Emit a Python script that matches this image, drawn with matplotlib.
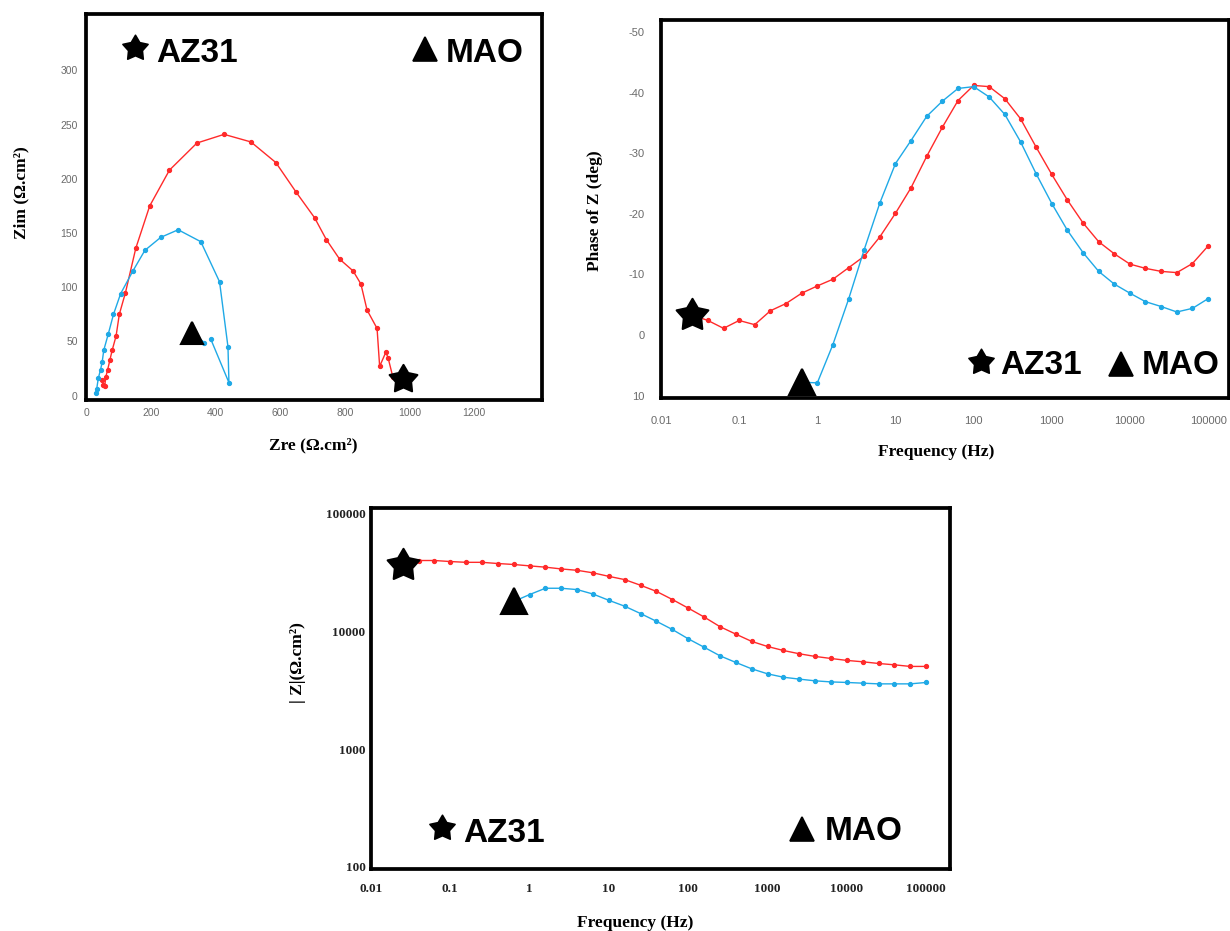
import matplotlib
matplotlib.use("Agg")
import numpy as np
import matplotlib.pyplot as plt
from matplotlib.path import Path
from matplotlib.ticker import NullLocator

plt.rcParams['axes.unicode_minus'] = False

# ---------------- Nyquist (AZ31 red, MAO blue) ----------------
nyq_az31_zre = [50, 54, 58, 61, 67, 74, 81, 93, 103, 122, 154, 197, 258, 343, 427,
                510, 587, 649, 707, 743, 784, 826, 850, 869, 900, 908, 927, 934, 949, 980]
nyq_az31_zim = [14, 10, 9, 17, 24, 33, 42, 55, 75, 95, 136, 175, 208, 233, 241,
                234, 215, 188, 164, 144, 126, 115, 103, 79, 62, 27, 40, 35, 17, 15]
nyq_mao_zre = [30, 33, 38, 45, 50, 55, 69, 85, 107, 145, 182, 231, 285, 355, 413,
               439, 442, 386, np.nan, 366, 329]
nyq_mao_zim = [2, 6, 16, 24, 31, 42, 57, 75, 94, 115, 134, 146, 153, 142, 105,
               45, 12, 52, np.nan, 49, 58]
nyq_xticks = [0, 200, 400, 600, 800, 1000, 1200]
nyq_yticks = [0, 50, 100, 150, 200, 250, 300]

# ---------------- Bode (frequency sweep) ----------------
freq_az31 = [0.0251, 0.0398, 0.0631, 0.1, 0.158, 0.251, 0.398, 0.631, 1.0, 1.58,
             2.51, 3.98, 6.31, 10, 15.8, 25.1, 39.8, 63.1, 100, 158, 251, 398,
             631, 1000, 1580, 2510, 3980, 6310, 10000, 15800, 25100, 39800,
             63100, 100000]
freq_mao = [0.631, 1.0, 1.58, 2.51, 3.98, 6.31, 10, 15.8, 25.1, 39.8, 63.1, 100,
            158, 251, 398, 631, 1000, 1580, 2510, 3980, 6310, 10000, 15800,
            25100, 39800, 63100, 100000]

phase_az31 = [-3.3, -2.4, -1.1, -2.4, -1.7, -4.0, -5.2, -6.9, -8.1, -9.2, -11.1,
              -13.0, -16.2, -20.1, -24.3, -29.5, -34.3, -38.7, -41.2, -41.0,
              -39.0, -35.7, -31.0, -26.5, -22.3, -18.5, -15.4, -13.4, -11.7,
              -11.0, -10.5, -10.3, -11.8, -14.7]
phase_mao = [7.8, 7.9, 1.6, -5.9, -14.1, -21.8, -28.3, -32.1, -36.1, -38.6, -40.7,
             -41.0, -39.3, -36.4, -31.9, -26.6, -21.7, -17.3, -13.6, -10.5, -8.4,
             -6.9, -5.5, -4.7, -3.8, -4.4, -6.0]

modz_az31 = [37000, 40100, 40100, 39300, 38700, 38700, 37800, 37100, 36100, 35200,
             34000, 33100, 31500, 29400, 27600, 24700, 21900, 18700, 15800, 13300,
             11000, 9500, 8240, 7460, 6900, 6470, 6140, 5900, 5680, 5530, 5350,
             5210, 5050, 5050]
modz_mao = [18000, 20600, 23300, 23300, 22700, 20800, 18400, 16400, 14200, 12200,
            10400, 8670, 7360, 6220, 5460, 4820, 4370, 4090, 3940, 3810, 3730,
            3690, 3640, 3590, 3590, 3590, 3690]

freq_ticks = [0.01, 0.1, 1, 10, 100, 1000, 10000, 100000]
freq_labels = ['0.01', '0.1', '1', '10', '100', '1000', '10000', '100000']
phase_ticks = [-50, -40, -30, -20, -10, 0, 10]
modz_ticks = [100, 1000, 10000, 100000]
modz_labels = ['100', '1000', '10000', '100000']

RED = '#FF2A2A'
BLUE = '#1FA9E6'
STAR = Path.unit_regular_star(5, innerCircle=0.55)
SERIF = ['Liberation Serif', 'DejaVu Serif']
SANS = ['Liberation Sans', 'DejaVu Sans']

W, H = 1230, 931
fig = plt.figure(figsize=(W / 100, H / 100), dpi=100)


def axes_px(left, top, right, bottom):
    return fig.add_axes([left / W, 1 - bottom / H, (right - left) / W, (bottom - top) / H])


def frame(ax):
    for s in ax.spines.values():
        s.set_linewidth(2.7)
        s.set_color('black')


def series(ax, x, y, color):
    ax.plot(x, y, color=color, lw=1.0, marker='o', ms=2.8, mec=color, mfc=color, zorder=3)


def end_marker(ax, x, y, marker, ms):
    ax.plot([x], [y], linestyle='none', marker=marker, ms=ms, color='black',
            mec='black', mew=1.5, zorder=5, clip_on=False)


def key(px, py, marker, ms, label, tx, ty):
    fig.add_artist(plt.Line2D([px / W], [1 - py / H], linestyle='none', marker=marker,
                              ms=ms, color='black', mec='black', mew=1.2,
                              transform=fig.transFigure))
    fig.text(tx / W, 1 - ty / H, label, fontsize=24, fontweight='bold', family=SANS,
             ha='left', va='baseline', color='black')


def labels(ax, xl, yl, xpos, ypos, size=12.5):
    ax.set_xlabel(xl, fontsize=size, fontweight='bold', family=SERIF)
    ax.set_ylabel(yl, fontsize=size, fontweight='bold', family=SERIF)
    ax.xaxis.set_label_coords(*xpos)
    ax.yaxis.set_label_coords(*ypos)
    ax.xaxis.label.set_va('center')
    ax.yaxis.label.set_va('center')


# ---- Nyquist ----
ax1 = axes_px(86, 14, 542, 400)
series(ax1, nyq_az31_zre, nyq_az31_zim, RED)
series(ax1, nyq_mao_zre, nyq_mao_zim, BLUE)
end_marker(ax1, nyq_az31_zre[-1], nyq_az31_zim[-1], STAR, 21)
end_marker(ax1, nyq_mao_zre[-1], nyq_mao_zim[-1], '^', 16)
ax1.set_xlim(0, 1410)
ax1.set_ylim(-4, 352)
ax1.set_xticks(nyq_xticks)
ax1.set_yticks(nyq_yticks)
ax1.tick_params(length=0, labelsize=7.5, labelcolor='#6a6a6a', pad=6)
for t in ax1.get_xticklabels() + ax1.get_yticklabels():
    t.set_family(SANS)
frame(ax1)
labels(ax1, 'Zre (Ω.cm²)', 'Zim (Ω.cm²)', (0.498, -0.117), (-0.142, 0.536))
key(135, 48, STAR, 19, 'AZ31', 156, 62)
key(425, 49, '^', 17, 'MAO', 446, 62)

# ---- Phase ----
ax2 = axes_px(661, 20, 1229, 398)
series(ax2, freq_az31, phase_az31, RED)
series(ax2, freq_mao, phase_mao, BLUE)
end_marker(ax2, freq_az31[0], phase_az31[0], STAR, 24)
end_marker(ax2, freq_mao[0], phase_mao[0], '^', 19)
ax2.set_xscale('log')
ax2.set_xlim(0.01, 1.85e5)
ax2.set_ylim(10.4, -52)
ax2.set_xticks(freq_ticks)
ax2.set_xticklabels(freq_labels)
ax2.xaxis.set_minor_locator(NullLocator())
ax2.set_yticks(phase_ticks)
ax2.tick_params(length=0, labelsize=8, labelcolor='#6a6a6a')
ax2.tick_params(axis='x', pad=13)
ax2.tick_params(axis='y', pad=12)
for t in ax2.get_xticklabels() + ax2.get_yticklabels():
    t.set_family(SANS)
frame(ax2)
labels(ax2, 'Frequency (Hz)', 'Phase of Z (deg)', (0.484, -0.143), (-0.116, 0.495))
key(981, 362, STAR, 19, 'AZ31', 1000, 374)
key(1121, 364, '^', 17, 'MAO', 1142, 374)

# ---- |Z| ----
ax3 = axes_px(371, 508, 950, 869)
series(ax3, freq_az31, modz_az31, RED)
series(ax3, freq_mao, modz_mao, BLUE)
end_marker(ax3, freq_az31[0], modz_az31[0], STAR, 24)
end_marker(ax3, freq_mao[0], modz_mao[0], '^', 19)
ax3.set_xscale('log')
ax3.set_yscale('log')
ax3.set_xlim(0.01, 2.0e5)
ax3.set_ylim(96, 1.12e5)
ax3.set_xticks(freq_ticks)
ax3.set_xticklabels(freq_labels)
ax3.set_yticks(modz_ticks)
ax3.set_yticklabels(modz_labels)
ax3.xaxis.set_minor_locator(NullLocator())
ax3.yaxis.set_minor_locator(NullLocator())
ax3.tick_params(length=0, labelsize=9.5, labelcolor='#222222')
ax3.tick_params(axis='x', pad=10)
ax3.tick_params(axis='y', pad=4)
for t in ax3.get_xticklabels() + ax3.get_yticklabels():
    t.set_family(SERIF)
    t.set_fontweight('bold')
frame(ax3)
labels(ax3, 'Frequency (Hz)', '| Z|(Ω.cm²)', (0.456, -0.150), (-0.126, 0.573))
key(442, 828, STAR, 19, 'AZ31', 463, 842)
key(802, 829, '^', 17, 'MAO', 825, 840)

fig.savefig('out.png', dpi=100)
